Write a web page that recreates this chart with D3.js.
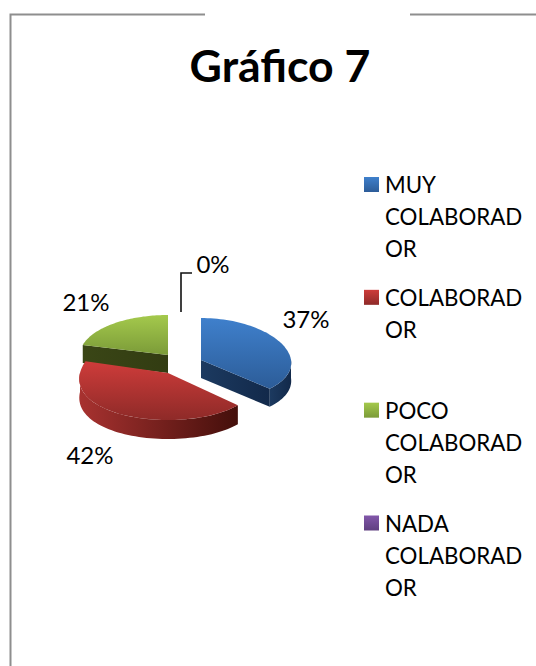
<!DOCTYPE html>
<html><head><meta charset="utf-8">
<script src="https://cdn.jsdelivr.net/npm/d3@7/dist/d3.min.js"></script>
<style>html,body{margin:0;padding:0;background:#fff;overflow:hidden}svg{display:block}text{font-family:Lato,"Open Sans",sans-serif;fill:#000}</style>
</head><body><svg id="c" width="536" height="666"></svg>
<script>
const title = "Gráfico 7";
const categories = ["MUY COLABORADOR","COLABORADOR","POCO COLABORADOR","NADA COLABORADOR"];
const legendLines = [["MUY","COLABORAD","OR"],["COLABORAD","OR"],["POCO","COLABORAD","OR"],["NADA","COLABORAD","OR"]];
const values = [37,42,21,0];
const topColors = [["#3f80cc","#2c5c98"],["#ce3c3a","#8e2a28"],["#a4c94c","#7b9b38"],["#8257aa","#5f3f80"]];
const rimColors = [["#1c3a60","#12294a"],["#a83230","#440f0b"],["#3a4616","#323c12"],["#40285a","#40285a"]];
// layout constants
const sliceCenter = [[201,360],[168,373],[168,355],[168,355]];
const RX=[90,88,88,88], RY=[42,47,40,40], DEPTH=[18,19,18,18], PERSP=[0.07,0.13,0,0];
const labelPos = [[306,328],[90,464],[86,311],[213,273]];

const svg=d3.select("#c"), defs=svg.append("defs");
const grad=(id,cols,horizontal)=>{const g=defs.append("linearGradient").attr("id",id)
  .attr("x1",0).attr("y1",0).attr("x2",horizontal?1:0).attr("y2",horizontal?0:1);
  g.append("stop").attr("offset",0).attr("stop-color",cols[0]);
  g.append("stop").attr("offset",1).attr("stop-color",cols[1]);};
categories.forEach((c,i)=>{grad("t"+i,topColors[i],false);grad("r"+i,rimColors[i],true);});

// frame
const frame=svg.append("g").attr("fill","none").attr("stroke","#8e8e8e").attr("stroke-width",2);
frame.append("path").attr("d",d3.line()([[205,14.5],[10.5,14.5],[10.5,666]]));
frame.append("path").attr("d",d3.line()([[410,14.5],[536,14.5]]));

svg.append("text").attr("x",280).attr("y",82).attr("text-anchor","middle")
  .attr("font-size",44.6).attr("font-weight",700).text(title);

// pie
const arcs=d3.pie().sort(null).value(d=>d)(values);
const pt=(i,a,dz=0)=>[sliceCenter[i][0]+RX[i]*Math.sin(a)*(1-PERSP[i]*Math.cos(a)), sliceCenter[i][1]-RY[i]*Math.cos(a)+dz];
const line=d3.line();
const pieG=svg.append("g");
const sweep=(a0,a1)=>d3.range(0,61).map(k=>a0+(a1-a0)*k/60);
const drawSlice=(i)=>{
  const d=arcs[i]; if(d.endAngle-d.startAngle<=0) return;
  const [cx,cy]=sliceCenter[i], h=DEPTH[i];
  // cut faces
  const faceAngles = i===0?[d.endAngle]:(i===2?[d.startAngle]:[]);
  faceAngles.forEach(a=>{
    const p=pt(i,a);
    pieG.append("path").attr("d",line([[cx,cy],p,[p[0],p[1]+h],[cx,cy+h]])+"Z").attr("fill",`url(#r${i})`);
  });
  // outer rim
  const a0=Math.max(d.startAngle,Math.PI/2), a1=Math.min(d.endAngle,3*Math.PI/2);
  if(a1>a0){
    const s=sweep(a0,a1);
    pieG.append("path").attr("d",line(s.map(a=>pt(i,a)).concat(s.map(a=>pt(i,a,h)).reverse()))+"Z").attr("fill",`url(#r${i})`);
  }
  // top
  pieG.append("path")
    .attr("d",line([[cx,cy]].concat(sweep(d.startAngle,d.endAngle).map(a=>pt(i,a))))+"Z")
    .attr("fill",`url(#t${i})`);
};
[2,1,0].forEach(drawSlice);

// data labels
const fmt=d=>d+"%";
svg.append("g").selectAll("text").data(values).join("text")
  .attr("x",(d,i)=>labelPos[i][0]).attr("y",(d,i)=>labelPos[i][1])
  .attr("text-anchor","middle").attr("font-size",24).text(fmt);
svg.append("path").attr("d",line([[181,312],[181,273],[192,273]])).attr("fill","none").attr("stroke","#111").attr("stroke-width",1.6);

// legend
const ly=d3.scalePoint().domain(categories).range([177,515.5]);
const leg=svg.append("g").selectAll("g").data(categories).join("g")
  .attr("transform",d=>`translate(364,${ly(d)})`);
leg.append("rect").attr("width",15).attr("height",15).attr("fill",(d,i)=>`url(#t${i})`);
leg.each(function(d,i){
  d3.select(this).selectAll("text").data(legendLines[i]).join("text")
    .attr("x",21).attr("y",(t,k)=>16+k*32.2).attr("font-size",22.3).text(t=>t);
});
</script></body></html>
